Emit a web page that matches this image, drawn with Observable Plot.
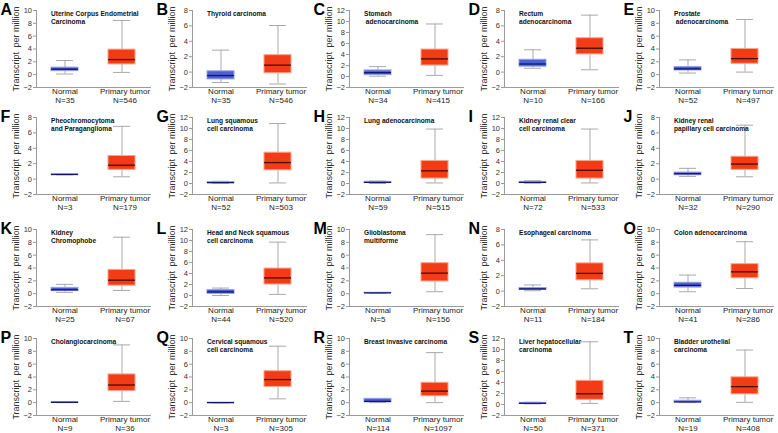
<!DOCTYPE html>
<html><head><meta charset="utf-8">
<script src="https://cdn.jsdelivr.net/npm/d3@7"></script>
<script src="https://cdn.jsdelivr.net/npm/@observablehq/plot@0.6"></script>
<style>
body{margin:0;background:#fff;}
#wrap{position:relative;width:778px;height:433px;overflow:hidden;background:#fff;}
.panel{position:absolute;}
.panel svg{overflow:visible;}
</style></head><body><div id="wrap"></div>
<script>
const groups = ["Normal", "Primary tumor"];
const letters = ["A","B","C","D","E","F","G","H","I","J","K","L","M","N","O","P","Q","R","S","T"];
const titles = [
  "Uterine Corpus Endometrial\nCarcinoma", "Thyroid carcinoma", "Stomach\n adenocarcinoma", "Rectum\nadenocarcinoma", "Prostate\n adenocarcinoma",
  "Pheochromocytoma\nand Paraganglioma", "Lung squamous\ncell carcinoma", "Lung adenocarcinoma", "Kidney renal clear\ncell carcinoma", "Kidney renal\npapillary cell carcinoma",
  "Kidney\nChromophobe", "Head and Neck squamous\ncell carcinoma", "Glioblastoma\nmultiforme", "Esophageal carcinoma", "Colon adenocarcinoma",
  "Cholangiocarcinoma", "Cervical squamous\ncell carcinoma", "Breast invasive carcinoma", "Liver hepatocellular\ncarcinoma", "Bladder urothelial\ncarcinoma"
];
const yMax = [10, 8, 12, 8, 10, 8, 12, 12, 12, 8, 10, 12, 10, 8, 10, 10, 10, 10, 12, 10];
const nNormal = [35, 35, 34, 10, 52, 3, 52, 59, 72, 32, 25, 44, 5, 11, 41, 9, 3, 114, 50, 19];
const nTumor = [546, 546, 415, 166, 497, 179, 503, 515, 533, 290, 67, 520, 156, 184, 286, 36, 305, 1097, 371, 408];
// [lower whisker, Q1, median, Q3, upper whisker]
const normalStats = [
  [0.1, 0.55, 0.85, 1.1, 2.2], [-1.35, -0.95, -0.45, 0.1, 2.85], [0.05, 0.25, 0.7, 1.1, 1.8], [0.5, 0.7, 1.05, 1.6, 2.9], [0.25, 0.65, 0.9, 1.2, 2.3],
  [0.55, 0.58, 0.6, 0.62, 0.65], [0.05, 0.1, 0.15, 0.25, 0.4], [0.0, 0.1, 0.2, 0.3, 0.45], [0.05, 0.1, 0.2, 0.3, 0.5], [0.35, 0.5, 0.7, 0.85, 1.4],
  [0.2, 0.4, 0.6, 0.9, 1.45], [0.0, 0.3, 0.65, 1.0, 1.35], [0.08, 0.1, 0.12, 0.14, 0.15], [0.05, 0.15, 0.28, 0.4, 0.8], [0.3, 0.95, 1.3, 1.7, 2.9],
  [0.0, 0.02, 0.05, 0.08, 0.12], [-0.02, 0.0, 0.0, 0.01, 0.02], [0.0, 0.05, 0.2, 0.6, 0.6], [0.1, 0.15, 0.22, 0.3, 0.4], [0.0, 0.05, 0.12, 0.3, 0.75]
];
const tumorStats = [
  [0.35, 1.6, 2.35, 3.9, 8.45], [-1.55, -0.15, 0.9, 2.2, 6.05], [0.2, 2.0, 3.2, 4.9, 9.55], [0.3, 2.3, 3.1, 4.4, 7.4], [0.4, 1.7, 2.5, 4.0, 8.6],
  [0.3, 1.2, 1.8, 3.0, 6.85], [0.1, 2.4, 3.8, 5.6, 10.9], [0.1, 0.9, 2.3, 4.1, 9.9], [0.1, 0.9, 2.4, 4.1, 9.9], [0.3, 1.2, 1.95, 2.9, 7.0],
  [0.5, 1.25, 2.1, 3.7, 8.8], [0.2, 2.0, 3.2, 4.9, 9.7], [0.3, 1.9, 3.2, 4.75, 9.2], [0.3, 1.4, 2.3, 3.6, 6.65], [0.8, 2.4, 3.4, 4.6, 8.1],
  [0.2, 1.8, 2.75, 4.4, 9.0], [0.6, 2.45, 3.6, 4.9, 8.8], [0.0, 1.0, 1.8, 3.1, 7.8], [0.2, 0.85, 1.95, 4.3, 11.4], [0.05, 1.3, 2.5, 3.95, 8.2]
];
const colLeft = [0, 156, 313, 468, 623];
const rowTop = [0, 107, 219, 328];

const FONT = "Arial, 'Liberation Sans', sans-serif";
const styles = [
  {fill: "#4b60d6", stroke: "#93a1ea", med: "#14166a"},
  {fill: "#f23c15", stroke: "#f8a48d", med: "#4a0c05"}
];

function panel(i) {
  const rows = groups.map((g, k) => {
    const s = k === 0 ? normalStats[i] : tumorStats[i];
    return {group: g, n: k === 0 ? nNormal[i] : nTumor[i], lo: s[0], q1: s[1], med: s[2], q3: s[3], hi: s[4]};
  });
  const ticks = d3.range(-2, yMax[i] + 0.001, 2);
  const boxMarks = rows.flatMap((r, k) => [
    Plot.ruleX([r], {x: "group", y1: "lo", y2: "hi", stroke: "#a9a9a9", strokeWidth: 1}),
    Plot.tickY([r], {x: "group", y: "lo", stroke: "#a9a9a9", insetLeft: 5, insetRight: 5}),
    Plot.tickY([r], {x: "group", y: "hi", stroke: "#a9a9a9", insetLeft: 5, insetRight: 5}),
    Plot.barY([r], {x: "group", y1: "q1", y2: "q3", fill: styles[k].fill, stroke: styles[k].stroke, strokeWidth: 1}),
    Plot.tickY([r], {x: "group", y: "med", stroke: styles[k].med, strokeWidth: 1.3}),
    Plot.text([r], {x: "group", text: d => `${d.group}\nN=${d.n}`, frameAnchor: "bottom", lineAnchor: "top", dy: 0, dx: k === 0 ? 0 : 3, fontSize: 8, lineHeight: 1.1, fill: "#222"})
  ]);
  return Plot.plot({
    width: 155, height: 109,
    marginLeft: 36, marginRight: 5, marginTop: 10, marginBottom: 22,
    style: {fontFamily: FONT, background: "transparent", overflow: "visible"},
    x: {type: "band", domain: groups, paddingInner: 0.534, paddingOuter: 0.25, axis: null},
    y: {domain: [-2, yMax[i]], axis: null},
    marks: [
      ...boxMarks,
      Plot.axisY({ticks, tickSize: 3, tickPadding: 1.5, fontSize: 7.5, stroke: "#9a9a9a", fill: "#333", label: null}),
      Plot.frame({anchor: "left", stroke: "#9a9a9a"}),
      Plot.frame({anchor: "bottom", stroke: "#9a9a9a"}),
      Plot.text([titles[i]], {frameAnchor: "top-left", dx: 14.5, dy: 0.5, lineAnchor: "top", textAnchor: "start", fontSize: 6.6, fontWeight: "bold", lineHeight: 1.15, fill: "#111"}),
      Plot.text([letters[i]], {frameAnchor: "top-left", dx: -36, dy: 4, lineAnchor: "bottom", textAnchor: "start", fontSize: 16, fontWeight: "bold", fill: "#000"}),
      Plot.text(["Transcript\u2002per million"], {frameAnchor: "left", dx: -20, rotate: -90, textAnchor: "middle", fontSize: 9, fill: "#333"})
    ]
  });
}

const wrap = document.getElementById("wrap");
for (let i = 0; i < 20; i++) {
  const div = document.createElement("div");
  div.className = "panel";
  div.style.left = colLeft[i % 5] + "px";
  div.style.top = rowTop[Math.floor(i / 5)] + "px";
  div.appendChild(panel(i));
  wrap.appendChild(div);
}
</script>
</body></html>
